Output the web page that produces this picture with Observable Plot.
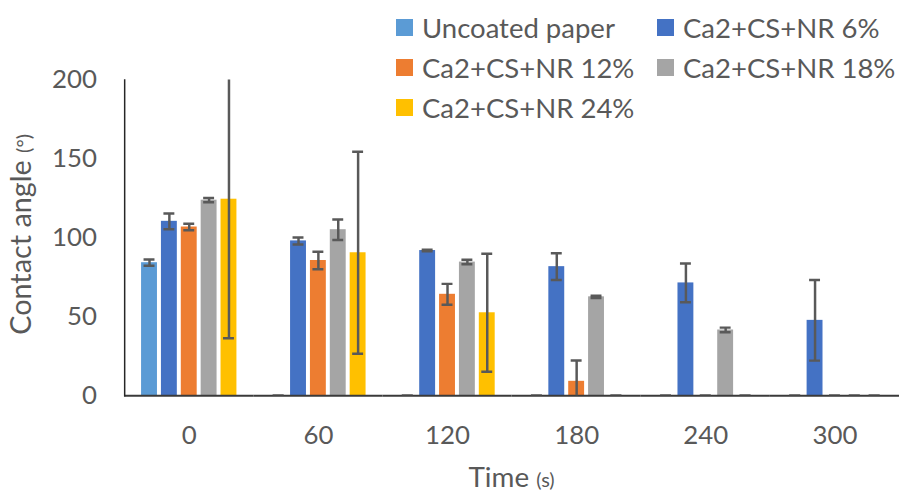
<!DOCTYPE html>
<html>
<head>
<meta charset="utf-8">
<script src="https://cdn.jsdelivr.net/npm/d3@7"></script>
<script src="https://cdn.jsdelivr.net/npm/@observablehq/plot@0.6"></script>
<style>
  html, body { margin: 0; padding: 0; background: #fff; overflow: hidden; }
  #wrap { position: relative; width: 899px; height: 496px; }
  #legend { position: absolute; left: 0; top: 0; font-family: Lato, sans-serif; color: #595959; font-size: 27.5px; }
  .item { position: absolute; display: flex; align-items: center; white-space: nowrap; height: 40px; }
  .sw { width: 17px; height: 17px; margin-right: 9px; }
</style>
</head>
<body>
<div id="wrap"><div id="legend"></div></div>
<script>
// ---- data ----
const times = ["0", "60", "120", "180", "240", "300"];
const series = ["Uncoated paper", "Ca2+CS+NR 6%", "Ca2+CS+NR 12%", "Ca2+CS+NR 18%", "Ca2+CS+NR 24%"];
const colors = ["#5B9BD5", "#4472C4", "#ED7D31", "#A5A5A5", "#FFC000"];

const uncoated    = [84.3, 0, 0, 0, 0, 0];
const uncoatedErr = [2.0, 0, 0, 0, 0, 0];
const nr6         = [110.5, 98.1, 92.0, 81.8, 71.5, 47.8];
const nr6Err      = [5.0, 2.2, 0.5, 8.5, 12.3, 25.5];
const nr12        = [106.9, 85.7, 64.3, 9.2, 0, 0];
const nr12Err     = [2.0, 5.5, 6.6, 13.2, 0, 0];
const nr18        = [123.9, 105.2, 84.7, 62.7, 41.7, 0];
const nr18Err     = [1.3, 6.5, 1.4, 0.7, 1.5, 0];
const nr24        = [124.5, 90.6, 52.6, 0, 0, 0];
const nr24Err     = [88.0, 64.0, 37.4, 0, 0, 0];
const yTicks = [0, 50, 100, 150, 200];

const values = [uncoated, nr6, nr12, nr18, nr24];
const errors = [uncoatedErr, nr6Err, nr12Err, nr18Err, nr24Err];

const rows = [];
times.forEach((t, i) => series.forEach((s, j) => {
  rows.push({time: t, series: s, value: values[j][i], err: errors[j][i]});
}));

const FONT = "Lato, sans-serif";

const plot = Plot.plot({
  width: 905,
  height: 496,
  marginLeft: 125,
  marginRight: 0,
  marginTop: 80,
  marginBottom: 98,
  style: {fontFamily: FONT, color: "#595959", background: "transparent", overflow: "visible"},
  fx: {domain: times, padding: 0},
  x: {domain: series, paddingInner: 0.2, paddingOuter: 0.85, axis: null},
  y: {domain: [0, 200], axis: null},
  color: {domain: series, range: colors},
  marks: [
    Plot.axisY({ticks: yTicks, tickSize: 0, tickPadding: 28, fontSize: 26, label: null}),
    Plot.axisFx({anchor: "bottom", tickSize: 0, tickPadding: 30, fontSize: 26, label: null}),
    Plot.barY(rows, {fx: "time", x: "series", y: "value", fill: "series"}),
    Plot.ruleY([0], {stroke: "#3a3a3a", strokeWidth: 2}),
    Plot.frame({anchor: "left", facetAnchor: "left", stroke: "#262626", strokeWidth: 1.5}),
    Plot.ruleX(rows, {fx: "time", x: "series", y1: d => d.value - d.err, y2: d => d.value + d.err,
      stroke: "#595959", strokeWidth: 2.5, clip: true}),
    Plot.tickY(rows, {fx: "time", x: "series", y: d => d.value - d.err, stroke: "#595959",
      strokeWidth: 2.5, insetLeft: 2.5, insetRight: 2.5, clip: true}),
    Plot.tickY(rows, {fx: "time", x: "series", y: d => d.value + d.err, stroke: "#595959",
      strokeWidth: 2.5, insetLeft: 2.5, insetRight: 2.5, clip: true})
  ]
});

const svg = d3.select(plot);
// y axis title
const yt = svg.append("text")
  .attr("transform", "translate(31,236) rotate(-90)")
  .attr("text-anchor", "middle")
  .attr("font-family", FONT)
  .attr("fill", "#595959")
  .attr("font-size", 29);
yt.append("tspan").text("Contact angle ");
yt.append("tspan").attr("font-size", 20).text("(°)");
// x axis title
const xt = svg.append("text")
  .attr("x", 515).attr("y", 490)
  .attr("text-anchor", "middle")
  .attr("font-family", FONT)
  .attr("fill", "#595959")
  .attr("font-size", 28);
xt.append("tspan").text("Time ");
xt.append("tspan").attr("font-size", 20).text("(s)");

document.getElementById("wrap").prepend(plot);
plot.style.position = "absolute";
plot.style.left = "0";
plot.style.top = "0";

// legend (overlaid, top right, 2 columns)
const legend = document.getElementById("legend");
const colX = [396, 657];
const rowY = [7, 47, 87];
series.forEach((s, i) => {
  const item = document.createElement("div");
  item.className = "item";
  item.style.left = colX[i % 2] + "px";
  item.style.top = rowY[Math.floor(i / 2)] + "px";
  const sw = document.createElement("span");
  sw.className = "sw";
  sw.style.background = colors[i];
  const tx = document.createElement("span");
  tx.textContent = s;
  item.appendChild(sw);
  item.appendChild(tx);
  legend.appendChild(item);
});
</script>
</body>
</html>
